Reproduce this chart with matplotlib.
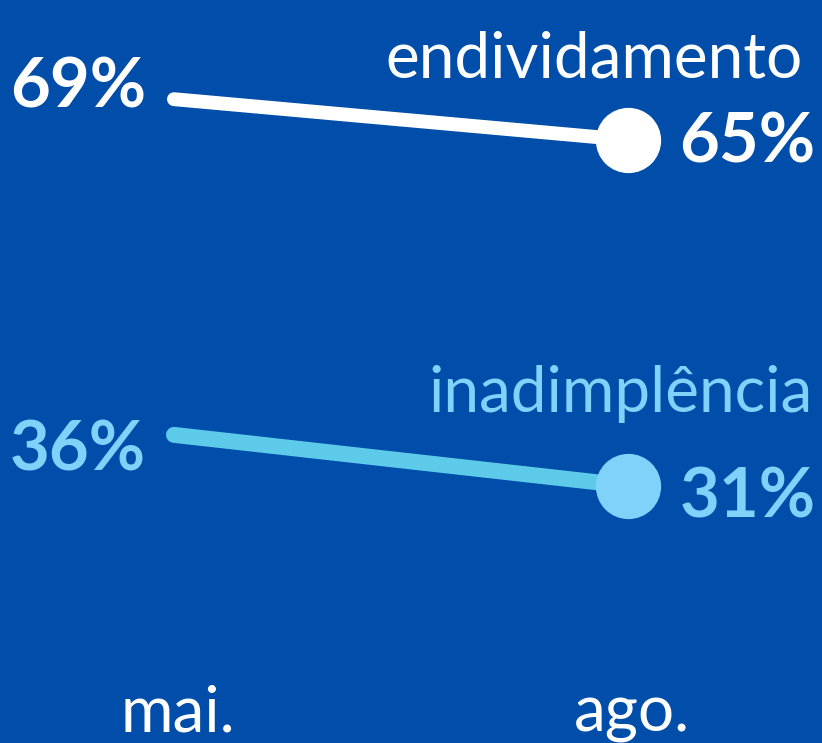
import matplotlib.pyplot as plt

# data
months = ["mai.", "ago."]
endividamento = [69, 65]
inadimplencia = [36, 31]

bg = "#004DAA"
white = "#FFFFFF"
light_line = "#5CCAE8"
light = "#80D2FA"

plt.rcParams["font.family"] = ["Lato", "DejaVu Sans"]

fig = plt.figure(figsize=(8.22, 7.43), dpi=100, facecolor=bg)
ax = fig.add_axes([0, 0, 1, 1])
ax.set_facecolor(bg)
ax.set_xlim(-0.383, 1.427)
ax.set_ylim(5.71, 78.75)
ax.axis("off")

x = [0, 1]

# name, values, line colour, marker colour, text colour, line width, label offsets (pt)
series = [
    ("endividamento", endividamento, white, white, white, 10, (-6, -16), (126, 45)),
    ("inadimplência", inadimplencia, light_line, light, light, 11.5, (-26, -23), (133, 53)),
]

for name, vals, lc, mc, tc, lw, (dy0, dy1), name_off in series:
    ax.plot(x, vals, color=lc, lw=lw, solid_capstyle="round", zorder=2)
    ax.plot(x[1], vals[1], "o", color=mc, ms=47, mew=0, zorder=3)
    # value labels
    ax.annotate(f"{vals[0]}%", (x[0], vals[0]), xytext=(-20, dy0), textcoords="offset points",
                ha="right", va="baseline", fontsize=49.5, fontweight="bold", color=tc)
    ax.annotate(f"{vals[1]}%", (x[1], vals[1]), xytext=(37, dy1), textcoords="offset points",
                ha="left", va="baseline", fontsize=49.5, fontweight="bold", color=tc)
    # series name
    ax.annotate(name, (x[1], vals[1]), xytext=name_off, textcoords="offset points",
                ha="right", va="baseline", fontsize=46, color=tc)

# month labels
for xi, m in zip(x, months):
    ax.annotate(m, (xi, 0.015), xycoords=ax.get_xaxis_transform(), xytext=(3, 0),
                textcoords="offset points", ha="center", va="baseline",
                fontsize=46, color=white)

fig.savefig("out.png", dpi=100, facecolor=bg)
